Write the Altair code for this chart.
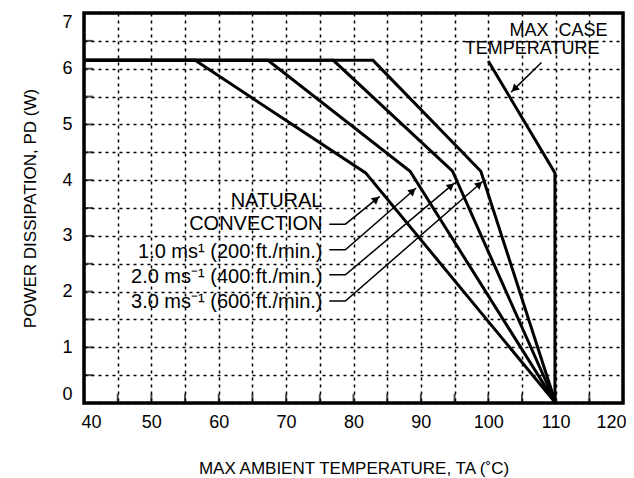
import math
import altair as alt
import pandas as pd

FONT = "Liberation Sans"

# Curves (x = max ambient temperature, y = power dissipation)
nat_x = [40, 56.5, 81.8, 110]
nat_y = [6.15, 6.15, 4.13, 0]
a1_x = [40, 67.3, 88.4, 110]
a1_y = [6.15, 6.15, 4.16, 0]
a2_x = [40, 77.0, 94.7, 110]
a2_y = [6.15, 6.15, 4.16, 0]
a3_x = [40, 82.9, 98.9, 110]
a3_y = [6.15, 6.15, 4.16, 0]
case_x = [100.0, 109.9, 109.9]
case_y = [6.14, 4.13, 0]

# Labels
label_texts = ["NATURAL", "CONVECTION", "1.0 ms\u00b9 (200 ft./min.)",
               "2.0 ms\u207b\u00b9 (400 ft./min.)", "3.0 ms\u207b\u00b9 (600 ft./min.)"]
label_x = [75.4, 75.4, 75.4, 75.4, 75.4]
label_y = [3.62, 3.21, 2.71, 2.27, 1.81]

case_texts = ["MAX\u00a0\u00a0CASE", "TEMPERATURE"]
case_tx = [117.7, 116.5]
case_ty = [6.68, 6.36]

# Leader lines
lead_nat_x = [76.4, 78.8, 83.9]
lead_nat_y = [3.21, 3.21, 3.71]
lead_1_x = [76.4, 78.8, 89.3]
lead_1_y = [2.75, 2.75, 3.86]
lead_2_x = [76.4, 78.8, 95.0]
lead_2_y = [2.30, 2.30, 3.95]
lead_3_x = [76.4, 78.8, 99.2]
lead_3_y = [1.83, 1.83, 3.98]
lead_case_x = [107.9, 103.4]
lead_case_y = [6.11, 5.58]

x_grid_values = list(range(40, 121, 5))
y_grid_values = [i * 0.5 for i in range(0, 15)]

W, H = 539, 390
XMIN, XMAX, YMIN, YMAX = 40, 120, 0, 7
PX = W / (XMAX - XMIN)
PY = H / (YMAX - YMIN)

curves = []
for name, xs, ys in [("nat", nat_x, nat_y), ("a1", a1_x, a1_y), ("a2", a2_x, a2_y),
                     ("a3", a3_x, a3_y), ("case", case_x, case_y)]:
    for i, (x, y) in enumerate(zip(xs, ys)):
        curves.append({"s": name, "o": i, "x": x, "y": y})
curves = pd.DataFrame(curves)

leads = []
heads = []
for name, xs, ys in [("nat", lead_nat_x, lead_nat_y), ("a1", lead_1_x, lead_1_y),
                     ("a2", lead_2_x, lead_2_y), ("a3", lead_3_x, lead_3_y),
                     ("case", lead_case_x, lead_case_y)]:
    for i, (x, y) in enumerate(zip(xs, ys)):
        leads.append({"s": name, "o": i, "x": x, "y": y})
    dx = (xs[-1] - xs[-2]) * PX
    dy = (ys[-1] - ys[-2]) * PY
    ang = math.degrees(math.atan2(dx, dy)) % 360
    L = math.hypot(dx, dy)
    back = 4.5
    hx = xs[-1] - (dx / L) * back / PX
    hy = ys[-1] - (dy / L) * back / PY
    heads.append({"s": name, "x": hx, "y": hy, "a": ang})
leads = pd.DataFrame(leads)
heads = pd.DataFrame(heads)

labels = pd.DataFrame({"t": label_texts, "x": label_x, "y": label_y})
case_lab = pd.DataFrame({"t": case_texts, "x": case_tx, "y": case_ty})
yticks = pd.DataFrame({"y": y_grid_values[1:], "x": [XMIN] * (len(y_grid_values) - 1)})
xticks = pd.DataFrame({"x": x_grid_values[1:-1], "y": [YMIN] * (len(x_grid_values) - 2)})

xscale = alt.Scale(domain=[XMIN, XMAX], nice=False, zero=False)
yscale = alt.Scale(domain=[YMIN, YMAX], nice=False)

xaxis = alt.Axis(values=x_grid_values,
                 labelExpr="datum.value % 10 == 0 ? format(datum.value, 'd') : ''",
                 title="MAX AMBIENT TEMPERATURE, TA (\u02daC)",
                 titlePadding=29, labelPadding=10, labelFlush=True, labelFlushOffset=3)
yaxis = alt.Axis(values=y_grid_values,
                 labelExpr="datum.value % 1 == 0 ? format(datum.value, 'd') : ''",
                 title="POWER DISSIPATION, PD (W)",
                 titlePadding=22, labelPadding=12, labelFlush=True)

X = alt.X("x:Q", scale=xscale, axis=xaxis)
Y = alt.Y("y:Q", scale=yscale, axis=yaxis)

base_curves = alt.Chart(curves).mark_line(color="black", strokeWidth=3).encode(
    x=X, y=Y, detail="s:N", order="o:Q",
)

lead_lines = alt.Chart(leads).mark_line(color="black", strokeWidth=1.5).encode(
    x=X, y=Y, detail="s:N", order="o:Q",
)

arrow_heads = alt.Chart(heads).mark_point(shape="triangle-up", filled=True,
                                          color="black", size=70, opacity=1).encode(
    x=X, y=Y, angle=alt.Angle("a:Q", scale=None),
)

y_tick_marks = alt.Chart(yticks).mark_tick(orient="horizontal", color="black",
                                           size=18, thickness=2, clip=True).encode(x=X, y=Y)
x_tick_marks = alt.Chart(xticks).mark_tick(orient="vertical", color="black",
                                           size=18, thickness=2, clip=True).encode(x=X, y=Y)

text_labels = alt.Chart(labels).mark_text(align="right", baseline="middle",
                                          font=FONT, fontSize=20, color="black").encode(
    x=X, y=Y, text="t:N",
)

case_labels = alt.Chart(case_lab).mark_text(align="right", baseline="middle",
                                            font=FONT, fontSize=18, color="black").encode(
    x=X, y=Y, text="t:N",
)

chart = alt.layer(y_tick_marks, x_tick_marks, base_curves, lead_lines, arrow_heads,
                  text_labels, case_labels).properties(
    width=W, height=H,
    autosize=alt.AutoSizeParams(type="none"),
    padding={"left": 76, "top": 5, "right": 3, "bottom": 75},
    background="white",
).configure_view(
    stroke="black", strokeWidth=3.5
).configure_axis(
    grid=True, gridColor="black", gridDash=[3, 4], gridWidth=1.5, gridOpacity=1,
    ticks=False, domain=False,
    labelFontSize=18, titleFontSize=17, labelFont=FONT, titleFont=FONT,
    titleFontWeight="normal", labelColor="black", titleColor="black",
)

chart.save("out.html", embed_options={"renderer": "svg", "actions": False})
